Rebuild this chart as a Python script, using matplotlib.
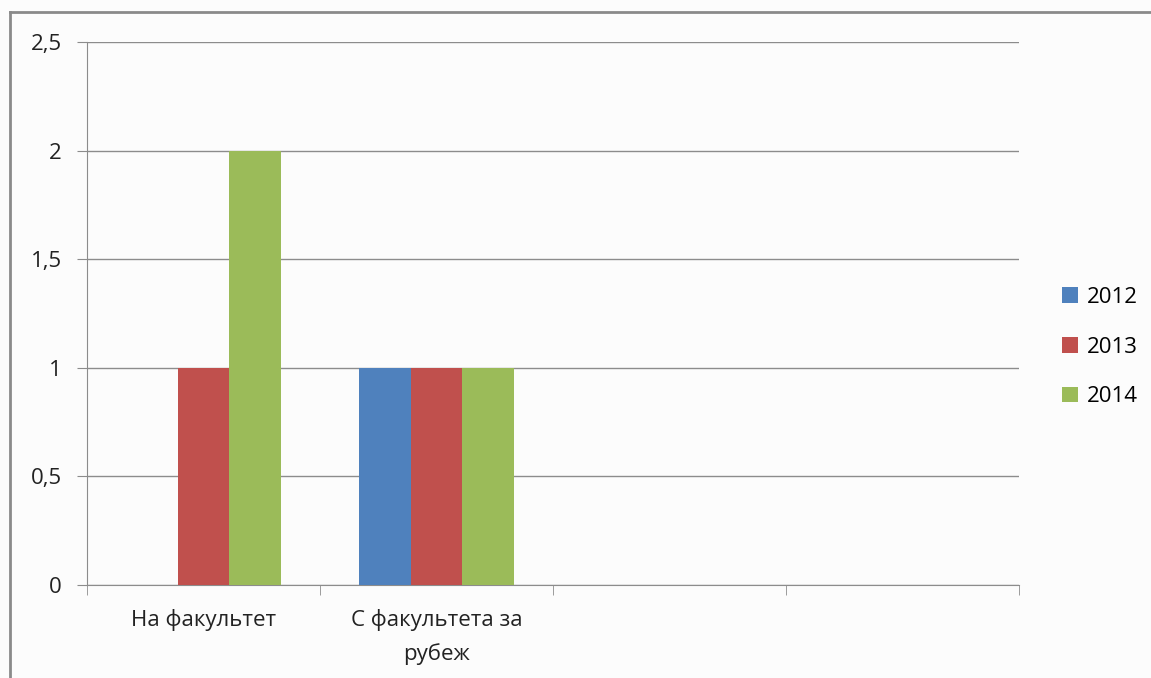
import numpy as np
import matplotlib.pyplot as plt
from matplotlib.lines import Line2D
from matplotlib.patches import Patch

plt.rcParams['font.family'] = ['Open Sans', 'DejaVu Sans']

categories = ["На факультет", "С факультета за\nрубеж", "", ""]
years = ["2012", "2013", "2014"]
values_2012 = [0, 1, 0, 0]
values_2013 = [1, 1, 0, 0]
values_2014 = [2, 1, 0, 0]
y_ticks = [0, 0.5, 1, 1.5, 2, 2.5]
y_labels = ["0", "0,5", "1", "1,5", "2", "2,5"]

colors = ["#4F81BD", "#C0504D", "#9BBB59"]
grid_c = "#8c8c8c"
fs = 16

fig = plt.figure(figsize=(11.51, 6.78), dpi=100, facecolor="#fcfcfc")
ax = fig.add_axes([87/1151, 1 - 585/678, (1019 - 87)/1151, (585 - 42)/678])
ax.set_facecolor("#fcfcfc")

x = np.arange(len(categories))
w = 1 / 4.5
for i, vals in enumerate([values_2012, values_2013, values_2014]):
    ax.bar(x + (i - 1) * w, vals, width=w, color=colors[i], label=years[i], zorder=3)

ax.set_xlim(-0.5, len(categories) - 0.5)
ax.set_ylim(0, 2.5)
ax.set_yticks(y_ticks)
ax.set_yticklabels(y_labels, fontsize=fs, color="#222222")
ax.yaxis.grid(True, color=grid_c, lw=1, zorder=0)
ax.tick_params(axis="y", length=7, color=grid_c, pad=11)

ax.set_xticks(x)
ax.set_xticklabels(categories, fontsize=fs, color="#222222", linespacing=1.75)
ax.tick_params(axis="x", length=0, pad=17)
# category boundary ticks
ax.set_xticks(np.arange(len(categories) + 1) - 0.5, minor=True)
ax.tick_params(axis="x", which="minor", length=7, color=grid_c)

for s in ["top", "right"]:
    ax.spines[s].set_visible(False)
ax.spines["left"].set_color(grid_c)
ax.spines["bottom"].set_color(grid_c)

# outer frame (left and top edges visible)
fig.add_artist(Line2D([10/1151, 10/1151], [0, 1 - 12/678], color="#8a8a8a", lw=2))
fig.add_artist(Line2D([10/1151, 1], [1 - 12/678, 1 - 12/678], color="#8a8a8a", lw=2))

handles = [Patch(facecolor=c, label=y) for c, y in zip(colors, years)]
fig.legend(handles=handles, loc="center left", bbox_to_anchor=(1042/1151, 1 - 347/678),
           frameon=False, fontsize=fs, handlelength=0.7, handleheight=0.7,
           handletextpad=0.4, labelspacing=1.3)

fig.savefig("out.png", dpi=100, facecolor=fig.get_facecolor())
